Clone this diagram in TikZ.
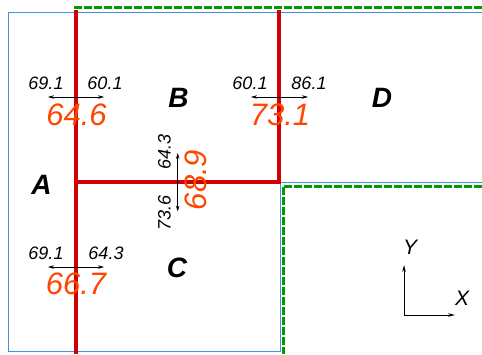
\documentclass[tikz,border=0pt]{standalone}
\usepackage{fontspec}
\setmainfont{Liberation Sans}
\usetikzlibrary{arrows.meta}

\definecolor{wallred}{RGB}{210,0,0}
\definecolor{edgeblue}{RGB}{70,145,220}
\definecolor{bndgreen}{RGB}{0,155,0}
\definecolor{valorange}{RGB}{255,70,0}

\begin{document}
\begin{tikzpicture}[
    x=1pt, y=-1pt,
    wall/.style={draw=wallred, line width=4pt},
    edge/.style={draw=edgeblue, line width=0.9pt},
    bound/.style={draw=bndgreen, line width=3pt, dash pattern=on 8pt off 2pt},
    room/.style={font=\fontsize{28}{28}\selectfont\bfseries\itshape, inner sep=0pt},
    dim/.style={font=\fontsize{18}{18}\selectfont\itshape, inner sep=0pt},
    val/.style={text=valorange, font=\fontsize{31}{31}\selectfont\itshape, inner sep=0pt},
    axlab/.style={font=\fontsize{21}{21}\selectfont\itshape, inner sep=0pt},
    arr/.style={{Stealth[length=6pt,width=3.5pt]}-{Stealth[length=6pt,width=3.5pt]}, line width=0.6pt},
    axarr/.style={-{Stealth[length=7pt,width=3.5pt]}, line width=0.8pt}
]
  \useasboundingbox (0,0) rectangle (482,354);

  % outlines of the plan
  \draw[edge] (482,12) -- (8,12) -- (8,351) -- (280,351) -- (280,182) -- (482,182);
  \draw[bound] (74,7.5) -- (482,7.5);
  \draw[bound] (482,186) -- (283,186) -- (283,354);

  % walls
  \coordinate (wa) at (76,10);
  \coordinate (wb) at (76,354);
  \coordinate (wc) at (279,10);
  \coordinate (wd) at (279,182);
  \coordinate (we) at (76,182);
  \draw[wall] (wa) -- (wb);
  \draw[wall] (wc) -- (wd) -- (we);

  % rooms
  \node[room] (ra) at (41.5,185) {A};
  \node[room] (rb) at (178.5,98) {B};
  \node[room] (rc) at (177,268) {C};
  \node[room] (rd) at (382,98) {D};

  % wall A-B
  \node[dim] (ab1) at (46,83.5) {69.1};
  \node[dim] (ab2) at (105,83.5) {60.1};
  \coordinate (ab3) at (48,97);
  \coordinate (ab4) at (104,97);
  \draw[arr] (ab3) -- (ab4);
  \node[val] (abv) at (76.5,115) {64.6};

  % wall B-D
  \node[dim] (bd1) at (250,83.5) {60.1};
  \node[dim] (bd2) at (309,83.5) {86.1};
  \coordinate (bd3) at (251,97);
  \coordinate (bd4) at (308,97);
  \draw[arr] (bd3) -- (bd4);
  \node[val] (bdv) at (280,115) {73.1};

  % wall A-C
  \node[dim] (ac1) at (46,253) {69.1};
  \node[dim] (ac2) at (106,253) {64.3};
  \coordinate (ac3) at (48,267);
  \coordinate (ac4) at (104,267);
  \draw[arr] (ac3) -- (ac4);
  \node[val] (acv) at (76,284) {66.7};

  % wall B-C
  \node[dim, rotate=90] (bc1) at (164.5,151.5) {64.3};
  \node[dim, rotate=90] (bc2) at (164.5,213) {73.6};
  \coordinate (bc3) at (177.7,153);
  \coordinate (bc4) at (177.7,211.5);
  \draw[arr] (bc3) -- (bc4);
  \node[val, rotate=90] (bcv) at (195.5,180) {68.9};

  % axes
  \coordinate (o) at (404,315);
  \coordinate (ox) at (455,315);
  \coordinate (oy) at (404,265);
  \draw[axarr] (o) -- (ox);
  \draw[axarr] (o) -- (oy);
  \node[axlab] (lx) at (462,298) {X};
  \node[axlab] (ly) at (410,247) {Y};
\end{tikzpicture}
\end{document}
